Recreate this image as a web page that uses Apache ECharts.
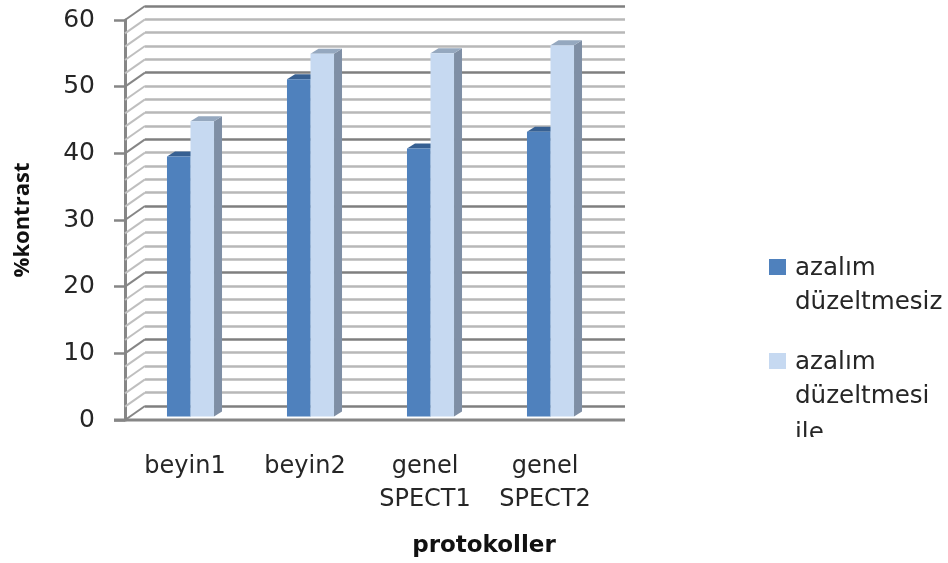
<!DOCTYPE html>
<html><head><meta charset="utf-8">
<style>html,body{margin:0;padding:0;background:#fff}#c{width:948px;height:563px;filter:blur(0.7px)}</style>
<script src="https://cdn.jsdelivr.net/npm/echarts@6/dist/echarts.min.js"></script>
</head><body><div id="c"></div>
<script>
const categories = ['beyin1','beyin2','genel\nSPECT1','genel\nSPECT2'];
const seriesNames = ['azalım\ndüzeltmesiz','azalım\ndüzeltmesi\nile'];
const withoutCorrection = [39, 50.6, 40.2, 42.7];
const withCorrection = [44.3, 54.4, 54.5, 55.7];
const wallTicks = [0,2,4,6,8,10,12,14,16,18,20,22,24,26,28,30,32,34,36,38,40,42,44,46,48,50,52,54,56,58,60];
const yMax = 60, yStep = 10;
const FONT = '"DejaVu Sans"';
const TXT = '#262626';
const chart = echarts.init(document.getElementById('c'), null, {renderer:'canvas'});
const DEPTH_X = 20, DEPTH_Y = 14, BAR_DX = 5.5, BAR_DY = 3.5, SIDE_X = 8, SIDE_Y = 5;

function bar3d(faces, side){
  return function(params, api){
    const i = api.value(0);
    const top = api.coord([i, api.value(1)]);
    const base = api.coord([i, 0]);
    const w = api.size([1,0])[0] * 0.196;
    const x0 = top[0] + BAR_DX + (side === 0 ? -w : 0);
    const x1 = x0 + w;
    const yT = top[1] - BAR_DY, yB = base[1] - BAR_DY;
    return {type:'group', children:[
      {type:'polygon', shape:{points:[[x1,yT],[x1+SIDE_X,yT-SIDE_Y],[x1+SIDE_X,yB-SIDE_Y],[x1,yB]]}, style:{fill:faces[2]}},
      {type:'polygon', shape:{points:[[x0,yT],[x0+SIDE_X,yT-SIDE_Y],[x1+SIDE_X,yT-SIDE_Y],[x1,yT]]}, style:{fill:faces[1]}},
      {type:'rect', shape:{x:x0,y:yT,width:w,height:yB-yT}, style:{fill:faces[0]}}
    ]};
  };
}
function wall(params, api){
  const v = api.value(0);
  const p = api.coord([0, v]);
  const left = params.coordSys.x;
  const right = params.coordSys.x + params.coordSys.width;
  const major = v % yStep === 0;
  const children = [{type:'line', shape:{x1:left,y1:p[1],x2:left+DEPTH_X,y2:p[1]-DEPTH_Y},
    style:{stroke: major ? '#868686' : '#bfbfbf', lineWidth:2}}];
  if (v === 0) children.push({type:'line', shape:{x1:left-11,y1:p[1],x2:right+DEPTH_X,y2:p[1]}, style:{stroke:'#868686',lineWidth:3}});
  return {type:'group', children};
}
const legendItems = [];
const lineOffsets = [0, 34, 71];
seriesNames.forEach((n,k)=>{
  const y = k===0 ? 259 : 353;
  legendItems.push({type:'rect', left:769, top:y, shape:{width:17,height:16}, style:{fill:k===0?'#4F81BD':'#C6D9F1'}});
  n.split('\n').forEach((line,j)=>{
    legendItems.push({type:'text', left:795, top:y-7+lineOffsets[j], style:{text:line, font:'24.6px '+FONT, fill:TXT, lineHeight:34}});
  });
});
legendItems.push({type:'rect', left:780, top:437, shape:{width:168,height:24}, style:{fill:'#fff'}, z:200});

chart.setOption({
  animation:false,
  backgroundColor:'#fff',
  grid:[
    {left:125, top:20, width:480, height:400},
    {left:145, top:6, width:480, height:400}
  ],
  xAxis:[
    {type:'category', gridIndex:0, data:categories, axisTick:{show:false}, axisLine:{show:false},
     name:'protokoller', nameLocation:'middle', nameGap:115,
     nameTextStyle:{fontFamily:FONT, fontSize:23, fontWeight:'bold', color:'#111', padding:[0,0,0,238]},
     axisLabel:{margin:30, fontFamily:FONT, fontSize:24, color:TXT, lineHeight:33, interval:0}},
    {type:'category', gridIndex:1, data:categories, show:false}
  ],
  yAxis:[
    {type:'value', gridIndex:0, min:0, max:yMax, interval:yStep, splitLine:{show:false},
     axisLine:{show:true, lineStyle:{color:'#868686', width:3}},
     axisTick:{show:true, length:11, lineStyle:{color:'#868686', width:2.5}},
     name:'%kontrast', nameLocation:'middle', nameGap:91,
     nameTextStyle:{fontFamily:'"Open Sans"', fontSize:22, fontWeight:'bold', color:'#111'},
     axisLabel:{margin:30, fontFamily:FONT, fontSize:25, color:TXT}},
    {type:'value', gridIndex:1, min:0, max:yMax, interval:yStep, axisLine:{show:false}, axisTick:{show:false}, axisLabel:{show:false},
     splitLine:{show:true, lineStyle:{color:'#7f7f7f', width:2.5}},
     minorTick:{show:false, splitNumber:5},
     minorSplitLine:{show:true, lineStyle:{color:'#b8b8b8', width:2.5}}}
  ],
  series:[
    {type:'custom', name:'wall', xAxisIndex:0, yAxisIndex:0, data:wallTicks.map(v=>[v]), encode:{y:0}, renderItem:wall, silent:true, z:1},
    {type:'custom', name:seriesNames[0], xAxisIndex:0, yAxisIndex:0, encode:{x:0,y:1}, z:3,
     data:withoutCorrection.map((v,i)=>[i,v]), renderItem:bar3d(['#4F81BD','#376092','#3F6797'],0)},
    {type:'custom', name:seriesNames[1], xAxisIndex:0, yAxisIndex:0, encode:{x:0,y:1}, z:4,
     data:withCorrection.map((v,i)=>[i,v]), renderItem:bar3d(['#C6D9F1','#95A8BF','#7F8FA5'],1)}
  ],
  graphic:legendItems
});
</script></body></html>
